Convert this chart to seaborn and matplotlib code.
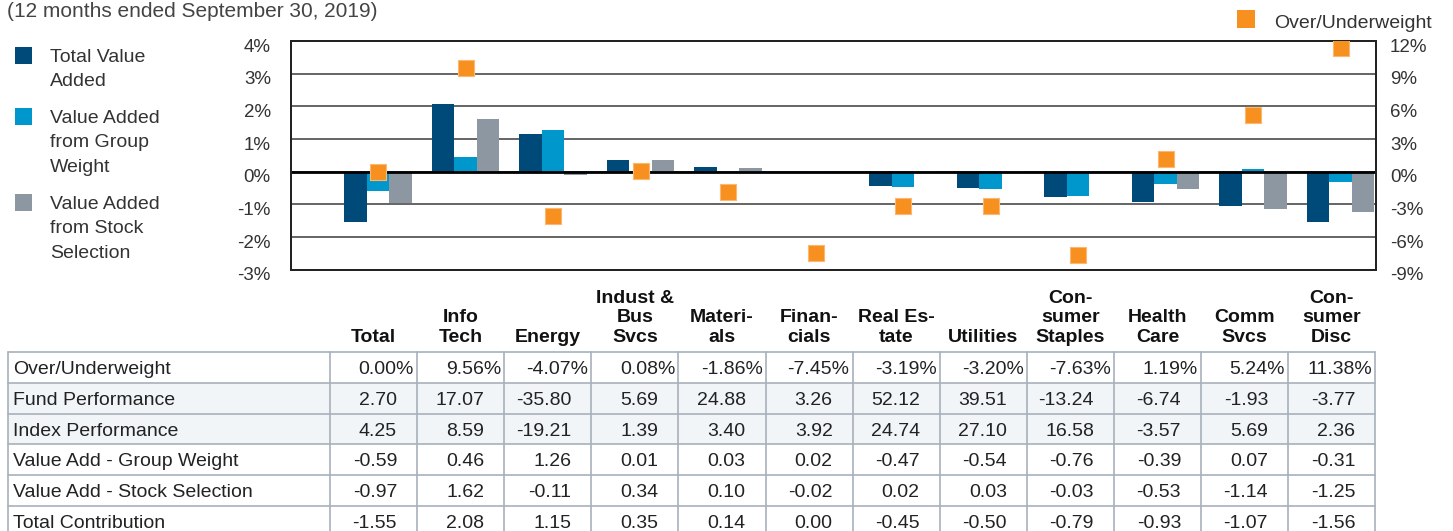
"""plot.py
Attribution chart: value added by sector with over/underweight markers
and the data table underneath.
"""

# Imports
import matplotlib.pyplot as plt
import matplotlib.transforms as mtransforms
from matplotlib.patches import Rectangle
import seaborn as sns
import pandas as pd
import numpy as np


# Data
sectors = ['Total', 'Info Tech', 'Energy', 'Indust & Bus Svcs', 'Materials',
           'Financials', 'Real Estate', 'Utilities', 'Consumer Staples',
           'Health Care', 'Comm Svcs', 'Consumer Disc']
header_labels = ['Total', 'Info\nTech', 'Energy', 'Indust &\nBus\nSvcs',
                 'Materi-\nals', 'Finan-\ncials', 'Real Es-\ntate', 'Utilities',
                 'Con-\nsumer\nStaples', 'Health\nCare', 'Comm\nSvcs',
                 'Con-\nsumer\nDisc']
overweight = [0.00, 9.56, -4.07, 0.08, -1.86, -7.45, -3.19, -3.20, -7.63,
              1.19, 5.24, 11.38]
fund_perf = [2.70, 17.07, -35.80, 5.69, 24.88, 3.26, 52.12, 39.51, -13.24,
             -6.74, -1.93, -3.77]
index_perf = [4.25, 8.59, -19.21, 1.39, 3.40, 3.92, 24.74, 27.10, 16.58,
              -3.57, 5.69, 2.36]
group_weight = [-0.59, 0.46, 1.26, 0.01, 0.03, 0.02, -0.47, -0.54, -0.76,
                -0.39, 0.07, -0.31]
stock_sel = [-0.97, 1.62, -0.11, 0.34, 0.10, -0.02, 0.02, 0.03, -0.03,
             -0.53, -1.14, -1.25]
total_contrib = [-1.55, 2.08, 1.15, 0.35, 0.14, 0.00, -0.45, -0.50, -0.79,
                 -0.93, -1.07, -1.56]

series_names = ['Total Value Added', 'Value Added from Group Weight',
                'Value Added from Stock Selection']
series_lines = [['Total Value', 'Added'],
                ['Value Added', 'from Group', 'Weight'],
                ['Value Added', 'from Stock', 'Selection']]
row_labels = ['Over/Underweight', 'Fund Performance', 'Index Performance',
              'Value Add - Group Weight', 'Value Add - Stock Selection',
              'Total Contribution']
left_ticks = [-3, -2, -1, 0, 1, 2, 3, 4]
right_ticks = [-9, -6, -3, 0, 3, 6, 9, 12]
title = '(12 months ended September 30, 2019)'

colors = ['#004a7a', '#0097cc', '#8d97a1']
orange = '#f7901e'
text_col = '#333333'

# Long-form frame for seaborn
df = pd.DataFrame({
    'sector': sectors * 3,
    'series': np.repeat(series_names, len(sectors)),
    'value': total_contrib + group_weight + stock_sel,
})

# Style
sns.set_style('white')
plt.rcParams['font.family'] = ['Liberation Sans', 'DejaVu Sans']

W, H = 1453, 531
fig = plt.figure(figsize=(W / 100, H / 100), dpi=100)

# Overlay in pixel coordinates for legend / table
ov = fig.add_axes([0, 0, 1, 1])
ov.set_xlim(0, W)
ov.set_ylim(H, 0)
ov.axis('off')

# Main axes: pixel box 291..1376 x, 41..269.5 y
ax_l, ax_r, ax_t, ax_b = 291, 1376, 41, 269.5
ax = fig.add_axes([ax_l / W, 1 - ax_b / H, (ax_r - ax_l) / W,
                   (ax_b - ax_t) / H])
ax.set_facecolor('none')

sns.barplot(data=df, x='sector', y='value', hue='series', order=sectors,
            hue_order=series_names, palette=colors, width=0.77, linewidth=0,
            saturation=1, errorbar=None, legend=False, ax=ax, zorder=2)

# category i sits at 378 + 87.5 i pixels
pitch = 87.5
ax.set_xlim((ax_l - 378) / pitch, (ax_r - 378) / pitch)
ax.set_ylim(-3, 4)
ax.set_yticks(left_ticks)
ax.set_yticklabels([f'{t}%' for t in left_ticks])
ax.yaxis.grid(True, color='#3a3a3a', lw=1.1)
ax.set_axisbelow(True)
ax.axhline(0, color='black', lw=2, zorder=3)
ax.set_xlabel('')
ax.set_ylabel('')
ax.tick_params(axis='x', labelbottom=False, length=0)
ax.tick_params(axis='y', length=0, pad=14.5, labelsize=13.5,
               labelcolor=text_col)
for s in ax.spines.values():
    s.set_color('#222222')
    s.set_linewidth(1.4)

# Secondary axis: over/underweight markers
ax2 = ax.twinx()
sns.scatterplot(x=np.arange(len(sectors)), y=overweight, ax=ax2, marker='s',
                s=120, color=orange, edgecolor='#fab872', linewidth=0.8,
                zorder=5, legend=False)
ax2.set_ylim(-9, 12)
ax2.set_yticks(right_ticks)
ax2.set_yticklabels([f'{t}%' for t in right_ticks])
ax2.tick_params(axis='y', length=0, pad=10, labelsize=13.5,
                labelcolor=text_col)
ax2.grid(False)
for s in ax2.spines.values():
    s.set_color('#222222')
    s.set_linewidth(1.4)

# tick labels sit a little below their gridlines in the source
shift = mtransforms.ScaledTranslation(0, -3 / 72, fig.dpi_scale_trans)
for lab in ax.get_yticklabels() + ax2.get_yticklabels():
    lab.set_transform(lab.get_transform() + shift)

# Title
ov.text(7, 17, title, fontsize=15, color='#444444', va='baseline', ha='left')

# Left legend
first_base = [61.7, 123, 209]
for lines, col, base in zip(series_lines, colors, first_base):
    ov.add_patch(Rectangle((15, base - 15), 17, 17, color=col, lw=0))
    for k, line in enumerate(lines):
        ov.text(50, base + k * 24.3, line, fontsize=14, color=text_col,
                va='baseline', ha='left')

# Top-right legend
ov.add_patch(Rectangle((1237, 10), 18, 18, color=orange, lw=0))
ov.text(1274, 28, 'Over/Underweight', fontsize=14, color=text_col,
        va='baseline', ha='left')

# Table
col_left, col_w = 330, 87.1
lab_left = 8
row_top, row_h = 352, 30.8
rows = [overweight, fund_perf, index_perf, group_weight, stock_sel,
        total_contrib]
shaded = [1, 2]
border = '#a7b1bb'
table_right = col_left + col_w * len(sectors)

for r, (lab, vals) in enumerate(zip(row_labels, rows)):
    y0 = row_top + r * row_h
    if r in shaded:
        ov.add_patch(Rectangle((lab_left, y0), table_right - lab_left, row_h,
                               facecolor='#f1f5f8', lw=0, zorder=0))
    ov.text(lab_left + 5, y0 + row_h / 2, lab, fontsize=14, color='#222222',
            va='center_baseline', ha='left')
    for c, v in enumerate(vals):
        right = col_left + (c + 1) * col_w
        if r == 0:
            ov.text(right - 3, y0 + row_h / 2, f'{v:.2f}%', fontsize=14,
                    color='#222222', va='center_baseline', ha='right')
        else:
            ov.text(right - 20, y0 + row_h / 2, f'{v:.2f}', fontsize=14,
                    color='#222222', va='center_baseline', ha='right')

# table grid lines
n_rows = len(rows)
for r in range(n_rows + 1):
    y = row_top + r * row_h
    ov.plot([lab_left, table_right], [y, y], color=border, lw=1.2, zorder=1)
for xv in [lab_left] + [col_left + c * col_w for c in range(len(sectors) + 1)]:
    ov.plot([xv, xv], [row_top, row_top + n_rows * row_h], color=border,
            lw=1.2, zorder=1)

# Column headers
for c, lab in enumerate(header_labels):
    ov.text(col_left + (c + 0.5) * col_w, 342, lab, fontsize=14,
            fontweight='bold', color='#111111', ha='center', va='baseline',
            linespacing=1.2, multialignment='center')

plt.savefig('out.png', dpi=100)
